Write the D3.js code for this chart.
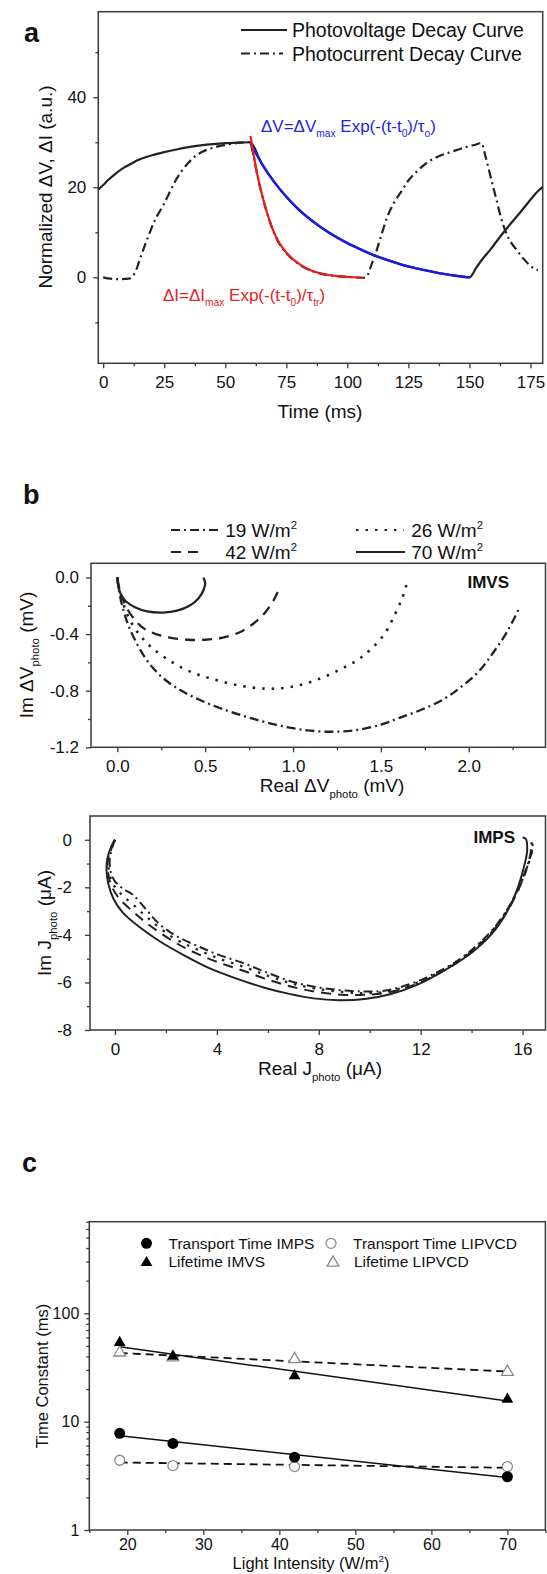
<!DOCTYPE html>
<html><head><meta charset="utf-8">
<script src="https://cdn.jsdelivr.net/npm/d3@7"></script>
<style>body{margin:0;background:#fff} svg{display:block} text{font-family:"Liberation Sans",Arial,sans-serif}</style>
</head><body><svg id="chart" width="547" height="1574"></svg>
<script>
// ---------- Panel a data (t in ms, normalized value) ----------
const aXTicks = [0,25,50,75,100,125,150,175];
const aXMinor = [12.5,37.5,62.5,87.5,112.5,137.5,162.5];
const aYTicks = [0,20,40];
const aYMinor = [-10,10,30,50];
const photovoltage = [[-2,19.5],[0,20.5],[2,21.6],[5,23],[8,24.2],[11,25.1],[15,26.2],[20,27.1],[25,27.8],[30,28.4],[35,28.9],[40,29.3],[45,29.6],[50,29.8],[55,29.9],[60,30],
 [65,25.2],[70,21.2],[75,17.9],[80,15.1],[85,12.8],[90,10.8],[95,9.1],[100,7.6],[105,6.3],[110,5.1],[115,4.1],[120,3.2],[125,2.4],[130,1.8],[135,1.2],[140,0.7],[145,0.3],[150,0],
 [153,2.3],[156,4.5],[158.5,6.1],[161,7.9],[164,10],[167,12],[170,13.9],[173,15.9],[176,17.9],[178,19.1],[180,20.1]];
const photocurrent = [[0,0],[3,-0.3],[7,-0.4],[10.5,-0.3],[12,0.2],[13.5,1.6],[15,4],[17,7],[19,9.8],[21,12.5],[23,14.5],[25,16.4],[27.5,19.2],[30,21.8],[32,23.5],[35,25.5],[38,27],[41,28],[44,28.6],[48,29.2],[52,29.6],[56,29.9],[60,30],
 [61.5,27.2],[62.5,24.4],[63.5,21.8],[65,18.4],[66.5,15.4],[68,12.8],[70,9.8],[72,7.6],[75,5.4],[78,3.8],[82,2.3],[86,1.3],[90,0.7],[95,0.3],[100,0.1],[106.4,-0.1],
 [107.8,0.1],[110,3],[112,6],[114,9.5],[116.4,13.5],[119,16.5],[122,19],[125,21.5],[129,23.8],[133,25.6],[137,26.8],[141,27.6],[145,28.3],[149,29],[152,29.4],[155,29.8],
 [156.5,27],[158,23.8],[160.7,18],[163.6,12],[166,8.7],[169.3,6.1],[172,4.2],[174.5,2.8],[176.4,2],[178,1.6]];
const fitV = [[60.3,29.8],[65,25.2],[70,21.2],[75,17.9],[80,15.1],[85,12.8],[90,10.8],[95,9.1],[100,7.6],[105,6.3],[110,5.1],[115,4.1],[120,3.2],[125,2.4],[130,1.8],[135,1.2],[140,0.7],[145,0.3],[150,0]];
const fitI = [[60.3,31.4],[61.5,27.6],[62.5,24.5],[63.5,21.8],[65,18.4],[66.5,15.4],[68,12.8],[70,9.8],[72,7.6],[75,5.4],[78,3.8],[82,2.3],[86,1.3],[90,0.7],[95,0.3],[100,0.1],[106.4,-0.1]];

// ---------- Panel b data ----------
const intensities = ["19","26","42","70"];
const bXTicks = [0,0.5,1.0,1.5,2.0];
const bXMinor = [0.25,0.75,1.25,1.75,2.25];
const bYTicks = [0,-0.4,-0.8,-1.2];
const bYMinor = [-0.2,-0.6,-1.0];
const imvs19 = [[0,0],[0.01,-0.1],[0.03,-0.21],[0.06,-0.33],[0.1,-0.44],[0.167,-0.583],[0.25,-0.7],[0.35,-0.79],[0.47,-0.866],[0.6,-0.93],[0.75,-0.99],[0.9,-1.04],[1.05,-1.075],[1.2,-1.09],[1.35,-1.08],[1.5,-1.04],[1.61,-0.99],[1.73,-0.935],[1.857,-0.86],[1.96,-0.77],[2.06,-0.66],[2.14,-0.53],[2.22,-0.38],[2.29,-0.21]];
const imvs26 = [[0,0],[0.01,-0.08],[0.03,-0.17],[0.06,-0.27],[0.1,-0.36],[0.15,-0.44],[0.2,-0.5],[0.3,-0.59],[0.42,-0.668],[0.55,-0.72],[0.7,-0.765],[0.85,-0.786],[0.98,-0.775],[1.12,-0.73],[1.26,-0.655],[1.37,-0.58],[1.44,-0.51],[1.52,-0.4],[1.58,-0.26],[1.62,-0.15],[1.645,-0.055]];
const imvs42 = [[0,0],[0.01,-0.07],[0.03,-0.15],[0.06,-0.23],[0.1,-0.3],[0.15,-0.36],[0.22,-0.4],[0.3,-0.425],[0.4,-0.44],[0.5,-0.44],[0.6,-0.425],[0.7,-0.385],[0.78,-0.32],[0.84,-0.25],[0.89,-0.16],[0.92,-0.08]];
const imvs70 = [[0,0],[0.005,-0.06],[0.02,-0.12],[0.05,-0.17],[0.1,-0.21],[0.17,-0.24],[0.26,-0.248],[0.34,-0.235],[0.41,-0.2],[0.46,-0.15],[0.49,-0.09],[0.5,-0.04],[0.49,0]];
const pXTicks = [0,4,8,12,16];
const pXMinor = [2,6,10,14];
const pYTicks = [0,-2,-4,-6,-8];
const pYMinor = [-1,-3,-5,-7];
const imps19 = [[0,0],[-0.1,-0.3],[-0.2,-0.8],[-0.18,-1.3],[0,-1.75],[0.3,-2.05],[0.69,-2.3],[1.2,-2.9],[1.7,-3.5],[2.33,-4.0],[3.2,-4.45],[4.1,-4.85],[5.07,-5.2],[6.0,-5.6],[6.9,-5.95],[7.82,-6.18],[8.9,-6.33],[9.8,-6.38],[10.56,-6.35],[11.5,-6.1],[12.5,-5.65],[13.5,-5.05],[14.3,-4.35],[15.0,-3.55],[15.55,-2.65],[15.95,-1.75],[16.25,-0.9],[16.4,-0.3],[16.37,-0.1]];
const imps26 = [[0,0],[-0.12,-0.3],[-0.24,-0.8],[-0.24,-1.3],[-0.08,-1.85],[0.25,-2.3],[0.69,-2.7],[1.3,-3.3],[2.33,-4.15],[3.2,-4.6],[4.1,-5.0],[5.07,-5.35],[6.0,-5.72],[6.9,-6.03],[7.82,-6.25],[8.9,-6.4],[9.8,-6.45],[10.56,-6.4],[11.5,-6.15],[12.5,-5.7],[13.5,-5.08],[14.3,-4.38],[15.0,-3.58],[15.55,-2.68],[15.95,-1.78],[16.25,-0.95],[16.38,-0.35],[16.35,-0.1]];
const imps42 = [[0,0],[-0.14,-0.3],[-0.27,-0.8],[-0.28,-1.3],[-0.15,-1.9],[0.15,-2.45],[0.69,-3.0],[1.3,-3.55],[2.33,-4.3],[3.2,-4.78],[4.1,-5.17],[5.07,-5.52],[6.0,-5.88],[6.9,-6.17],[7.82,-6.38],[8.9,-6.52],[9.8,-6.52],[10.56,-6.45],[11.5,-6.2],[12.5,-5.74],[13.5,-5.12],[14.3,-4.42],[15.0,-3.62],[15.55,-2.72],[15.95,-1.82],[16.22,-1.0],[16.33,-0.4],[16.3,-0.1]];
const imps70 = [[0,0],[-0.15,-0.3],[-0.3,-0.8],[-0.33,-1.3],[-0.25,-1.9],[-0.05,-2.5],[0.3,-3.05],[0.96,-3.67],[1.8,-4.3],[2.7,-4.85],[3.7,-5.4],[4.8,-5.85],[5.8,-6.2],[6.8,-6.47],[7.8,-6.67],[8.8,-6.75],[9.8,-6.7],[10.8,-6.5],[11.9,-6.08],[13.0,-5.45],[14.0,-4.75],[14.8,-3.95],[15.35,-3.1],[15.75,-2.2],[16.04,-1.2],[16.18,-0.45],[16.12,0.05],[16.0,0.1]];

// ---------- Panel c data ----------
const lightIntensity = [19,26,42,70];
const transportIMPS = [7.8,6.3,4.7,3.1];
const transportLIPVCD = [4.4,3.93,3.85,3.85];
const lifetimeIMVS = [54.7,41,27,16.4];
const lifetimeLIPVCD = [44.3,40,38.5,29.4];
const fitLineX = [19,70];
const fitTransportIMPS = [7.4,3.05];
const fitTransportLIPVCD = [4.2,3.75];
const fitLifetimeIMVS = [49,15.5];
const fitLifetimeLIPVCD = [43,29];
const cXTicks = [20,30,40,50,60,70];
const cXMinor = [15,25,35,45,55,65,75];
const cYTicks = [1,10,100];
const cYMinor = [2,3,4,5,6,7,8,9,20,30,40,50,60,70,80,90,200,300,400,500,600,700];

const svg = d3.select('#chart');
svg.append('rect').attr('width',547).attr('height',1574).attr('fill','#fff');
const INK = '#222', AX = '#3a3a3a';

function frame(x,y){
  svg.append('rect').attr('x',x.range()[0]).attr('y',y.range()[1])
    .attr('width',x.range()[1]-x.range()[0]).attr('height',y.range()[0]-y.range()[1])
    .attr('fill','none').attr('stroke',AX).attr('stroke-width',1.5);
}
function styleAxis(g,fs){
  g.select('.domain').remove();
  g.selectAll('line').attr('stroke',AX).attr('stroke-width',1.3);
  g.selectAll('text').attr('font-size',fs).attr('fill','#111').attr('font-family','"Liberation Sans",Arial,sans-serif');
}
function axes(x,y,o){
  const yb = y.range()[0], xl = x.range()[0];
  let g = svg.append('g').attr('transform',`translate(0,${yb})`)
    .call(d3.axisBottom(x).tickValues(o.xMajor).tickFormat(o.xFmt).tickSize(5).tickSizeOuter(0).tickPadding(o.xPad));
  styleAxis(g,o.fs);
  g = svg.append('g').attr('transform',`translate(0,${yb})`)
    .call(d3.axisBottom(x).tickValues(o.xMinor).tickFormat('').tickSize(3).tickSizeOuter(0));
  styleAxis(g,o.fs);
  g = svg.append('g').attr('transform',`translate(${xl},0)`)
    .call(d3.axisLeft(y).tickValues(o.yMajor).tickFormat(o.yFmt).tickSize(5).tickSizeOuter(0).tickPadding(o.yPad));
  styleAxis(g,o.fs);
  g = svg.append('g').attr('transform',`translate(${xl},0)`)
    .call(d3.axisLeft(y).tickValues(o.yMinor).tickFormat('').tickSize(3).tickSizeOuter(0));
  styleAxis(g,o.fs);
  frame(x,y);
}
function addText(x,y,parts,o){
  const t = svg.append('text').attr('x',x).attr('y',y).attr('font-size',o.fs).attr('fill',o.fill||'#111')
    .attr('text-anchor',o.anchor||'start').attr('font-weight',o.bold?'bold':null);
  if(o.rotate) t.attr('transform',`rotate(-90,${x},${y})`);
  let shift = 0;
  parts.forEach(p=>{
    const s = t.append('tspan').text(p.t);
    const want = p.sub ? o.fs*0.3 : (p.sup ? -o.fs*0.4 : 0);
    if(want!==shift){ s.attr('dy',want-shift); shift=want; }
    if(p.sub||p.sup) s.attr('font-size',o.fs*0.6);
  });
  return t;
}
function line(x,y,data,o,curve){
  svg.append('path').datum(data).attr('fill','none').attr('stroke',o.stroke||INK)
    .attr('stroke-width',o.w||2).attr('stroke-dasharray',o.dash||null).attr('stroke-linejoin','round')
    .attr('stroke-linecap',o.cap||'butt')
    .attr('d',d3.line().x(d=>x(d[0])).y(d=>y(d[1])).curve(curve||d3.curveMonotoneX));
}
const DASHDOT = '9,4,2,4', DOT = '2.5,7', DASH = '10,7';

// ================= Panel a =================
const ax = d3.scaleLinear([-2,180],[98.3,542.7]);
const ay = d3.scaleLinear([-19.1,59],[363.3,11.7]);
axes(ax,ay,{xMajor:aXTicks,xMinor:aXMinor,yMajor:aYTicks,yMinor:aYMinor,xFmt:d3.format('d'),yFmt:d3.format('d'),xPad:8,yPad:7,fs:17});
line(ax,ay,photocurrent,{dash:DASHDOT,w:2.2});
line(ax,ay,photovoltage,{w:2.2});
line(ax,ay,fitV,{stroke:'#1a1aee',w:2.4});
line(ax,ay,fitI,{stroke:'#ee1a1a',w:2.2},d3.curveBasis);
addText(24,42,[{t:'a'}],{fs:27,bold:true});
svg.append('line').attr('x1',241).attr('x2',287).attr('y1',30).attr('y2',30).attr('stroke',INK).attr('stroke-width',2.2);
addText(292,37,[{t:'Photovoltage Decay Curve'}],{fs:19.5});
svg.append('line').attr('x1',241).attr('x2',283).attr('y1',53.5).attr('y2',53.5).attr('stroke',INK).attr('stroke-width',2.2).attr('stroke-dasharray',DASHDOT);
addText(292,60.5,[{t:'Photocurrent Decay Curve'}],{fs:19.5});
addText(261,132,[{t:'ΔV=ΔV'},{t:'max',sub:true},{t:' Exp(-(t-t'},{t:'0',sub:true},{t:')/τ'},{t:'o',sub:true},{t:')'}],{fs:17,fill:'#2323e6'});
addText(163,300.5,[{t:'ΔI=ΔI'},{t:'max',sub:true},{t:' Exp(-(t-t'},{t:'0',sub:true},{t:')/τ'},{t:'tr',sub:true},{t:')'}],{fs:17,fill:'#e62323'});
addText(320,418,[{t:'Time (ms)'}],{fs:19,anchor:'middle'});
addText(52,187,[{t:'Normalized ΔV, ΔI (a.u.)'}],{fs:19,anchor:'middle',rotate:true});

// ================= Panel b: legend =================
addText(23,504,[{t:'b'}],{fs:27,bold:true});
const legB = [
  {lab:'19',dash:DASHDOT,x1:171,x2:220,tx:297,y:530,cap:'butt'},
  {lab:'26',dash:DOT,x1:356,x2:404,tx:483,y:530,cap:'butt'},
  {lab:'42',dash:DASH,x1:171,x2:199,tx:297,y:552,cap:'butt'},
  {lab:'70',dash:null,x1:356,x2:405,tx:483,y:552,cap:'butt'}];
legB.forEach(d=>{
  svg.append('line').attr('x1',d.x1).attr('x2',d.x2).attr('y1',d.y).attr('y2',d.y).attr('stroke',INK).attr('stroke-width',2.2).attr('stroke-dasharray',d.dash);
  addText(d.tx,d.y+7,[{t:d.lab+' W/m'},{t:'2',sup:true}],{fs:19,anchor:'end'});
});

// ================= Panel b: IMVS =================
const bx = d3.scaleLinear([-0.15,2.437],[91,545.5]);
const by = d3.scaleLinear([-1.2,0.1],[747.3,563.3]);
axes(bx,by,{xMajor:bXTicks,xMinor:bXMinor,yMajor:bYTicks,yMinor:bYMinor,xFmt:d3.format('.1f'),yFmt:d=>d3.format('.1f')(d).replace('−','-'),xPad:8,yPad:7,fs:17});
line(bx,by,imvs19,{dash:DASHDOT,w:2.3},d3.curveCatmullRom);
line(bx,by,imvs26,{dash:DOT,w:2.6},d3.curveCatmullRom);
line(bx,by,imvs42,{dash:DASH,w:2.3},d3.curveCatmullRom);
line(bx,by,imvs70,{w:2.3},d3.curveCatmullRom);
addText(509,588,[{t:'IMVS'}],{fs:17,bold:true,anchor:'end'});
addText(332,792,[{t:'Real ΔV'},{t:'photo',sub:true},{t:' (mV)'}],{fs:19,anchor:'middle'});
addText(33,655,[{t:'Im ΔV'},{t:'photo',sub:true},{t:' (mV)'}],{fs:19,anchor:'middle',rotate:true});

// ================= Panel b: IMPS =================
const px = d3.scaleLinear([-0.98,16.9],[90,545.5]);
const py = d3.scaleLinear([-8,1],[1030,816]);
axes(px,py,{xMajor:pXTicks,xMinor:pXMinor,yMajor:pYTicks,yMinor:pYMinor,xFmt:d3.format('d'),yFmt:d=>d3.format('d')(d).replace('−','-'),xPad:8,yPad:13,fs:17});
line(px,py,imps19,{dash:DASHDOT,w:2},d3.curveCatmullRom);
line(px,py,imps26,{dash:DOT,w:2.3},d3.curveCatmullRom);
line(px,py,imps42,{dash:DASH,w:2},d3.curveCatmullRom);
line(px,py,imps70,{w:2},d3.curveCatmullRom);
addText(515,843,[{t:'IMPS'}],{fs:17,bold:true,anchor:'end'});
addText(320,1075,[{t:'Real J'},{t:'photo',sub:true},{t:' (μA)'}],{fs:19,anchor:'middle'});
addText(51,923,[{t:'Im J'},{t:'photo',sub:true},{t:' (μA)'}],{fs:19,anchor:'middle',rotate:true});

// ================= Panel c =================
addText(22,1172,[{t:'c'}],{fs:27,bold:true});
const cx = d3.scaleLinear([15,75],[89.3,545.4]);
const cy = d3.scaleLog([1,700],[1530,1221.7]);
axes(cx,cy,{xMajor:cXTicks,xMinor:cXMinor,yMajor:cYTicks,yMinor:cYMinor,xFmt:d3.format('d'),yFmt:d3.format('d'),xPad:4,yPad:5,fs:16});
const fits = [
  {v:fitLifetimeLIPVCD,dash:'8,5',w:1.8},
  {v:fitTransportLIPVCD,dash:'8,5',w:1.8},
  {v:fitLifetimeIMVS,dash:null,w:1.5},
  {v:fitTransportIMPS,dash:null,w:1.5}];
fits.forEach(f=>{
  svg.append('path').datum(fitLineX.map((x,i)=>[x,f.v[i]])).attr('fill','none').attr('stroke','#111')
    .attr('stroke-width',f.w).attr('stroke-dasharray',f.dash)
    .attr('d',d3.line().x(d=>cx(d[0])).y(d=>cy(d[1])));
});
const tri = d3.symbol(d3.symbolTriangle).size(60)();
const GRAY = '#8a8a8a';
function markers(vals,kind){
  vals.forEach((v,i)=>{ drawMark(cx(lightIntensity[i]), cy(v), kind); });
}
function drawMark(X,Y,kind){
  if(kind==='fc') svg.append('circle').attr('cx',X).attr('cy',Y).attr('r',5.5).attr('fill','#000');
  if(kind==='oc') svg.append('circle').attr('cx',X).attr('cy',Y).attr('r',5).attr('fill','#fff').attr('stroke',GRAY).attr('stroke-width',1.3);
  if(kind==='ft') svg.append('path').attr('d',tri).attr('transform',`translate(${X},${Y+1})`).attr('fill','#000');
  if(kind==='ot') svg.append('path').attr('d',tri).attr('transform',`translate(${X},${Y+1})`).attr('fill','#fff').attr('stroke',GRAY).attr('stroke-width',1.3);
}
markers(transportLIPVCD,'oc');
markers(lifetimeLIPVCD,'ot');
markers(transportIMPS,'fc');
markers(lifetimeIMVS,'ft');
const legC = [
  {k:'fc',x:146.5,y:1243.3,tx:168.5,lab:'Transport Time IMPS'},
  {k:'oc',x:331,y:1243.3,tx:353,lab:'Transport Time LIPVCD'},
  {k:'ft',x:146.5,y:1261.7,tx:168.5,lab:'Lifetime IMVS'},
  {k:'ot',x:333,y:1261.7,tx:354,lab:'Lifetime LIPVCD'}];
legC.forEach(d=>{ drawMark(d.x,d.y,d.k); addText(d.tx,d.y+5.5,[{t:d.lab}],{fs:15.5}); });
addText(311,1569,[{t:'Light Intensity (W/m'},{t:'2',sup:true},{t:')'}],{fs:16.5,anchor:'middle'});
addText(48,1376,[{t:'Time Constant (ms)'}],{fs:16.5,anchor:'middle',rotate:true});
</script></body></html>
